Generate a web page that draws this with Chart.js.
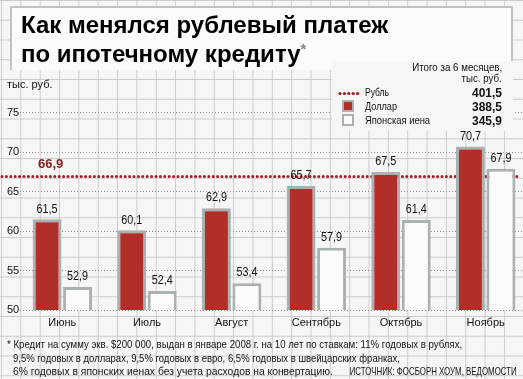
<!DOCTYPE html>
<html lang="ru">
<head>
<meta charset="UTF-8">
<title>Как менялся рублевый платеж по ипотечному кредиту</title>
<script src="https://cdn.jsdelivr.net/npm/chart.js"></script>
<style>
  body {
    margin: 0;
    width: 523px;
    height: 379px;
    overflow: hidden;
    position: relative;
    background-color: #f6f6f6;
    background-image:
      linear-gradient(to right, #cbcbcb 1px, transparent 1px),
      linear-gradient(to bottom, #cbcbcb 1px, transparent 1px);
    background-size: 19.35px 19.75px;
    background-position: 1px 0;
    font-family: "Liberation Sans", Arial, sans-serif;
    color: #111;
  }
  #title-box {
    position: absolute;
    left: 10px; top: 6px;
    width: 499px; height: 62px;
    background: #fbfbfb;
    border: 2px solid #c2c2c2;
    border-bottom: none;
    z-index: 2;
  }
  #title {
    position: absolute;
    left: 21px; top: 13px;
    font-weight: bold;
    font-size: 24px;
    line-height: 24px;
    color: #000;
    z-index: 3;
    white-space: nowrap;
  }
  #title sup { font-size: 15px; color: #888; vertical-align: 8px; }
  #unit { position: absolute; left: 7px; top: 78px; font-size: 11px; z-index: 3; }
  #legend {
    position: absolute;
    left: 332px; top: 61px;
    width: 181px; height: 70px;
    background: #f6f6f6;
    z-index: 3;
    font-size: 11.5px;
  }
  .fit { display: inline-block; white-space: nowrap; position: absolute; }
  #legend .val { font-weight: bold; font-size: 12px; }
  #legend .sym { position: absolute; }
  #footnote {
    position: absolute; left: 0; top: 0; width: 523px; height: 379px;
    font-size: 11px; z-index: 3; pointer-events: none;
  }
  #chart { position: absolute; left: 0; top: 0; z-index: 1; }
</style>
</head>
<body>
<div id="title-box"></div>
<div id="title">Как менялся рублевый платеж<br>по ипотечному кредиту<sup>*</sup></div>
<div id="unit">тыс. руб.</div>
<div id="legend"></div>
<canvas id="chart" width="530" height="340"></canvas>
<div id="footnote">
  <span class="fit" style="left:7px;top:338px" data-w="455">* Кредит на сумму экв. $200 000, выдан в январе 2008 г. на 10 лет по ставкам: 11% годовых в рублях,</span>
  <span class="fit" style="left:13px;top:352px" data-w="387">9,5% годовых в долларах, 9,5% годовых в евро, 6,5% годовых в швейцарских франках,</span>
  <span class="fit" style="left:13px;top:365px" data-w="320">6% годовых в японских иенах без учета расходов на конвертацию.</span>
  <span class="fit" style="right:6px;top:365px" data-w="167" data-origin="right">ИСТОЧНИК: ФОСБОРН ХОУМ, ВЕДОМОСТИ</span>
</div>

<script>
const months = ['Июнь', 'Июль', 'Август', 'Сентябрь', 'Октябрь', 'Ноябрь'];
const dollar = [61.5, 60.1, 62.9, 65.7, 67.5, 70.7];
const yen = [52.9, 52.4, 53.4, 57.9, 61.4, 67.9];
const rubleAvg = 66.9;
const seriesNames = ['Рубль', 'Доллар', 'Японская иена'];
const totals = [401.5, 388.5, 345.9];
const yTicks = [50, 55, 60, 65, 70, 75];

const RED = '#b22e28';
const DOTS = '#a01a1f';
const FRAME = '#abb0b0';
const FONT = '"Liberation Sans", Arial, sans-serif';

function fmt(v) {
  return v.toFixed(1).replace('.', ',');
}

// squeeze text horizontally to the narrow newspaper face
function fitAll() {
  document.querySelectorAll('.fit[data-w]').forEach(el => {
    const w = el.getBoundingClientRect().width;
    el.style.transformOrigin = (el.dataset.origin || 'left') + ' center';
    el.style.transform = `scaleX(${(+el.dataset.w / w).toFixed(3)})`;
  });
}

// legend with totals, built from the arrays
function buildLegend() {
  const box = document.getElementById('legend');
  let html = '<span class="fit" style="right:11px;top:0px" data-w="90" data-origin="right">Итого за 6 месяцев,</span>' +
    '<span class="fit" style="right:11px;top:11px" data-w="40" data-origin="right">тыс. руб.</span>';
  const tops = [26, 40, 54];
  const widths = [24, 32, 65];
  seriesNames.forEach((name, i) => {
    const t = tops[i];
    if (i === 0) {
      html += `<svg class="sym" style="left:6px;top:${t + 4}px" width="22" height="5">` +
        [0, 1, 2, 3, 4].map(k => `<circle cx="${2 + k * 4.4}" cy="2.5" r="1.6" fill="${DOTS}"/>`).join('') + '</svg>';
    } else {
      const fill = i === 1 ? RED : '#fbfbfb';
      html += `<div class="sym" style="left:10px;top:${t - 1}px;width:8px;height:8px;border:2px solid ${FRAME};background:${fill}"></div>`;
    }
    html += `<span class="fit" style="left:33px;top:${t - 1}px" data-w="${widths[i]}">${name}</span>`;
    html += `<span class="fit val" style="right:11px;top:${t - 1}px" data-w="30" data-origin="right">${fmt(totals[i])}</span>`;
  });
  box.innerHTML = html;
}

const rubleLine = {
  id: 'rubleLine',
  beforeDatasetsDraw(chart) {
    const ctx = chart.ctx;
    const y = chart.scales.y.getPixelForValue(rubleAvg);
    ctx.save();
    ctx.strokeStyle = DOTS;
    ctx.lineWidth = 3;
    ctx.lineCap = 'round';
    ctx.setLineDash([0, 4.4]);
    ctx.beginPath();
    ctx.moveTo(2, y);
    ctx.lineTo(517, y);
    ctx.stroke();
    ctx.setLineDash([]);
    ctx.fillStyle = '#8c1a1d';
    ctx.font = 'bold 13px ' + FONT;
    ctx.textAlign = 'left';
    ctx.textBaseline = 'middle';
    ctx.fillText(fmt(rubleAvg), 38, y - 12);
    ctx.restore();
  }
};

const valueLabels = {
  id: 'valueLabels',
  afterDatasetsDraw(chart) {
    const ctx = chart.ctx;
    ctx.fillStyle = '#111';
    ctx.font = '12px ' + FONT;
    ctx.textAlign = 'center';
    ctx.textBaseline = 'middle';
    chart.data.datasets.forEach((ds, i) => {
      chart.getDatasetMeta(i).data.forEach((bar, j) => {
        ctx.save();
        ctx.translate(bar.x, bar.y - 10);
        ctx.scale(0.9, 1);
        ctx.fillText(fmt(ds.data[j]), 0, 0);
        ctx.restore();
      });
    });
  }
};

document.addEventListener('DOMContentLoaded', () => {
  buildLegend();
  fitAll();
  const ctx = document.getElementById('chart').getContext('2d');
  new Chart(ctx, {
    type: 'bar',
    data: {
      labels: months,
      datasets: [
        {
          label: seriesNames[1],
          data: dollar,
          backgroundColor: RED,
          borderColor: FRAME,
          borderWidth: 3,
          borderSkipped: false
        },
        {
          label: seriesNames[2],
          data: yen,
          backgroundColor: '#fbfbfb',
          borderColor: FRAME,
          borderWidth: 3,
          borderSkipped: false
        }
      ]
    },
    options: {
      responsive: false,
      animation: false,
      devicePixelRatio: 1,
      categoryPercentage: 0.72,
      barPercentage: 0.95,
      layout: { padding: { left: 7, right: 2, top: 89, bottom: 0 } },
      plugins: {
        legend: { display: false },
        tooltip: { enabled: false }
      },
      scales: {
        x: {
          grid: { display: false, drawTicks: false },
          border: { display: false },
          ticks: {
            color: '#111',
            padding: 6,
            font: { size: 11, family: FONT }
          },
          afterFit: s => { s.height = 30; }
        },
        y: {
          min: 50,
          max: 78,
          afterBuildTicks: s => { s.ticks = yTicks.map(v => ({ value: v })); },
          afterFit: s => { s.width = 13; },
          grid: { color: '#8f8f8f', lineWidth: 1, drawTicks: false },
          border: { display: false, dash: [1, 2] },
          ticks: {
            color: '#111',
            crossAlign: 'far',
            padding: 0,
            font: { size: 11, family: FONT }
          }
        }
      }
    },
    plugins: [rubleLine, valueLabels]
  });
});
</script>
</body>
</html>
